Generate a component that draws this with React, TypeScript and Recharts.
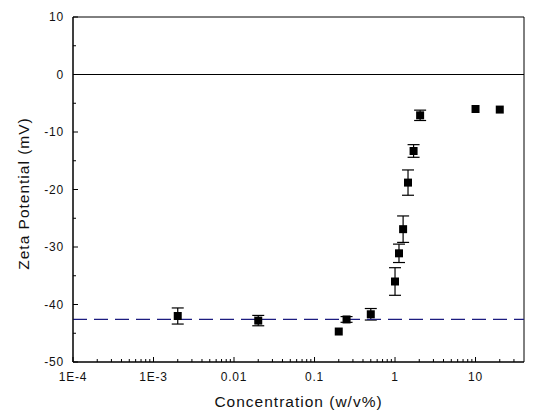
import React from "react";
import {
  ScatterChart,
  Scatter,
  XAxis,
  YAxis,
  ErrorBar,
  ReferenceLine,
  ReferenceArea,
} from "recharts";

// concentration (w/v%) vs zeta potential (mV)
const concentration = [0.002, 0.02, 0.2, 0.25, 0.5, 1.0, 1.12, 1.26, 1.45, 1.7, 2.05, 10, 20];
const zeta = [-42.0, -42.8, -44.7, -42.6, -41.7, -36.0, -31.1, -26.9, -18.8, -13.3, -7.1, -6.0, -6.1];
const zetaError = [1.4, 0.9, 0, 0.5, 1.0, 2.4, 1.6, 2.3, 2.2, 1.1, 0.9, 0, 0];
const baselineZeta = -42.6;

const xMajor = [1e-4, 1e-3, 0.01, 0.1, 1, 10];
const xMajorLabels = ["1E-4", "1E-3", "0.01", "0.1", "1", "10"];
const xMinorSteps = [2, 3, 4, 5, 6, 7, 8, 9];
const xMax = 40;

const yMajor = [-50, -40, -30, -20, -10, 0, 10];
const yMinor = [-45, -35, -25, -15, -5, 5];

const font = "'Liberation Sans', Arial, sans-serif";

const data = concentration.map((c, i) => ({ c, z: zeta[i], err: zetaError[i] }));

const xTicks = [
  ...xMajor,
  ...xMajor.flatMap((d) => xMinorSteps.map((m) => d * m)).filter((v) => v < 35),
].sort((a, b) => a - b);
const yTicks = [...yMajor, ...yMinor].sort((a, b) => a - b);

function XTick(props: any) {
  const { x, y, payload } = props;
  const idx = xMajor.findIndex((m) => Math.abs(Math.log10(m) - Math.log10(payload.value)) < 1e-6);
  const major = idx >= 0;
  return (
    <g>
      <line x1={x} x2={x} y1={y} y2={y - (major ? 5 : 3)} stroke="#000" />
      {major && (
        <text x={x} y={y + 19} textAnchor="middle" fontSize={12} letterSpacing={0.8} fill="#111" fontFamily={font}>
          {xMajorLabels[idx]}
        </text>
      )}
    </g>
  );
}

function YTick(props: any) {
  const { x, y, payload } = props;
  const major = yMajor.includes(payload.value);
  return (
    <g>
      <line x1={x} x2={x + (major ? 5 : 3)} y1={y} y2={y} stroke="#000" />
      {major && (
        <text x={x - 9} y={y + 4.3} textAnchor="end" fontSize={12} letterSpacing={0.8} fill="#111" fontFamily={font}>
          {payload.value}
        </text>
      )}
    </g>
  );
}

export default function App() {
  return (
    <div style={{ width: 531, height: 411, background: "#fff" }}>
      <ScatterChart width={531} height={411} margin={{ top: 9, right: 15, bottom: 7, left: 25 }}>
        <XAxis
          dataKey="c"
          type="number"
          scale="log"
          domain={[1e-4, xMax]}
          allowDataOverflow
          ticks={xTicks}
          interval={0}
          tickSize={0}
          tickMargin={0}
          tickLine={false}
          tick={(p: any) => <XTick {...p} />}
          axisLine={{ stroke: "#000" }}
          height={50}
          label={{
            value: "Concentration (w/v%)",
            position: "insideBottom",
            offset: 5,
            style: { fontSize: 15.5, letterSpacing: 1, fill: "#111", fontFamily: font, textAnchor: "middle" },
          }}
        />
        <YAxis
          dataKey="z"
          type="number"
          domain={[-50, 10]}
          allowDataOverflow
          ticks={yTicks}
          interval={0}
          tickSize={0}
          tickMargin={0}
          tickLine={false}
          tick={(p: any) => <YTick {...p} />}
          axisLine={{ stroke: "#000" }}
          width={40}
          label={{
            content: (p: any) => {
              const vb = p.viewBox || { x: 25, y: 9, width: 40, height: 345 };
              const cx = vb.x - 9;
              const cy = vb.y + vb.height / 2 + 4;
              return (
                <text
                  x={cx}
                  y={cy}
                  dy="0.35em"
                  transform={`rotate(-90 ${cx} ${cy})`}
                  textAnchor="middle"
                  fontSize={15.5}
                  letterSpacing={1}
                  fill="#111"
                  fontFamily={font}
                >
                  Zeta Potential (mV)
                </text>
              );
            },
          }}
        />
        <ReferenceArea x1={1e-4} x2={xMax} y1={-50} y2={10} fill="none" stroke="#000" strokeWidth={1} ifOverflow="visible" />
        <ReferenceLine y={0} stroke="#000" strokeWidth={1} />
        <Scatter data={data} fill="#000" shape="square" isAnimationActive={false}>
          <ErrorBar dataKey="err" direction="y" width={6} stroke="#000" strokeWidth={1.2} isAnimationActive={false} />
        </Scatter>
        <ReferenceLine y={baselineZeta} stroke="#1c1c80" strokeWidth={1.3} strokeDasharray="14 7" />
      </ScatterChart>
    </div>
  );
}
